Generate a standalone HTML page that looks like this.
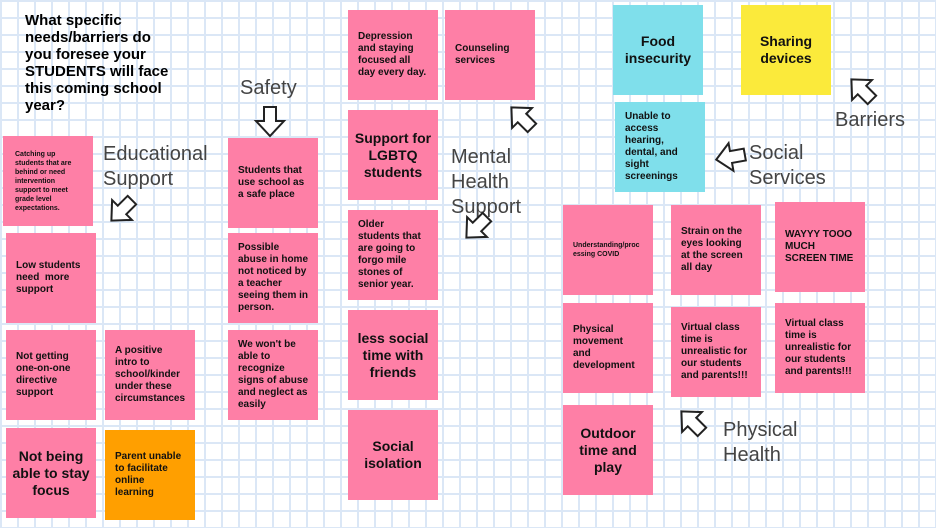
<!DOCTYPE html>
<html><head><meta charset="utf-8"><style>
body{margin:0;width:936px;height:528px;overflow:hidden;position:relative;font-family:"Liberation Sans",sans-serif;
background-color:#fff;
background-image:linear-gradient(to right,#dbe7f6 2px,transparent 2px),linear-gradient(to bottom,#dbe7f6 2px,transparent 2px);
background-size:17px 17px;background-position:0 0;}
.n{position:absolute;width:90px;height:90px;background:#fe7fa6;box-sizing:border-box;padding:0 10px;display:flex;align-items:center;font-weight:bold;font-size:10px;line-height:12px;color:#111;}
.L{font-size:14px;line-height:17px;justify-content:center;text-align:center;padding:0 3px;}
.c{background:#7fdfeb}.y{background:#fbea3b}.o{background:#ff9f00}
.s{font-size:7px;line-height:9px;word-break:break-all}
.t{position:absolute;color:#444;font-size:20px;line-height:25px;}
</style></head><body>
<div style="position:absolute;left:25px;top:12px;font-weight:bold;font-size:15px;line-height:17px;color:#000;width:148px">What specific needs/barriers do you foresee your STUDENTS will face this coming school year?</div>
<div class="n s" style="left:3px;top:136px;padding:0 12px;word-break:normal">Catching up students that are behind or need intervention support to meet grade level expectations.</div>
<div class="n" style="left:6px;top:233px">Low students need &nbsp;more support</div>
<div class="n" style="left:6px;top:330px">Not getting one-on-one directive support</div>
<div class="n" style="left:105px;top:330px">A positive intro to school/kinder under these circumstances</div>
<div class="n L" style="left:6px;top:428px">Not being able to stay focus</div>
<div class="n o" style="left:105px;top:430px">Parent unable to facilitate online learning</div>
<div class="n" style="left:228px;top:138px">Students that use school as a safe place</div>
<div class="n" style="left:228px;top:233px">Possible abuse in home not noticed by a teacher seeing them in person.</div>
<div class="n" style="left:228px;top:330px">We won't be able to recognize signs of abuse and neglect as easily</div>
<div class="n" style="left:348px;top:10px">Depression and staying focused all day every day.</div>
<div class="n" style="left:445px;top:10px">Counseling services</div>
<div class="n L" style="left:348px;top:110px">Support for LGBTQ students</div>
<div class="n" style="left:348px;top:210px">Older students that are going to forgo mile stones of senior year.</div>
<div class="n L" style="left:348px;top:310px">less social time with friends</div>
<div class="n L" style="left:348px;top:410px">Social isolation</div>
<div class="n L c" style="left:613px;top:5px">Food insecurity</div>
<div class="n L y" style="left:741px;top:5px">Sharing devices</div>
<div class="n c" style="left:615px;top:102px">Unable to access hearing, dental, and sight screenings</div>
<div class="n s" style="left:563px;top:205px">Understanding/processing COVID</div>
<div class="n" style="left:671px;top:205px">Strain on the eyes looking at the screen all day</div>
<div class="n" style="left:775px;top:202px">WAYYY TOOO MUCH SCREEN TIME</div>
<div class="n" style="left:563px;top:303px">Physical movement and development</div>
<div class="n" style="left:671px;top:307px">Virtual class time is unrealistic for our students and parents!!!</div>
<div class="n" style="left:775px;top:303px">Virtual class time is unrealistic for our students and parents!!!</div>
<div class="n L" style="left:563px;top:405px">Outdoor time and play</div>
<div class="t" style="left:240px;top:76px">Safety</div>
<div class="t" style="left:103px;top:142px">Educational<br>Support</div>
<div class="t" style="left:451px;top:145px">Mental<br>Health<br>Support</div>
<div class="t" style="left:749px;top:141px">Social<br>Services</div>
<div class="t" style="left:835px;top:108px">Barriers</div>
<div class="t" style="left:723px;top:418px">Physical<br>Health</div>
<svg width="936" height="528" style="position:absolute;left:0;top:0">
<defs><polygon id="a" points="-6,-14 6,-14 6,0 14,0 0,15 -14,0 -6,0" fill="#fff" stroke="#222" stroke-width="2" stroke-linejoin="miter"/></defs>
<use href="#a" transform="translate(270,121)"/>
<use href="#a" transform="translate(122,210) rotate(45)"/>
<use href="#a" transform="translate(522,118) rotate(135)"/>
<use href="#a" transform="translate(477,227) rotate(45)"/>
<use href="#a" transform="translate(731,157) rotate(80)"/>
<use href="#a" transform="translate(862,90) rotate(135)"/>
<use href="#a" transform="translate(692,422) rotate(135)"/>
</svg>
</body></html>
